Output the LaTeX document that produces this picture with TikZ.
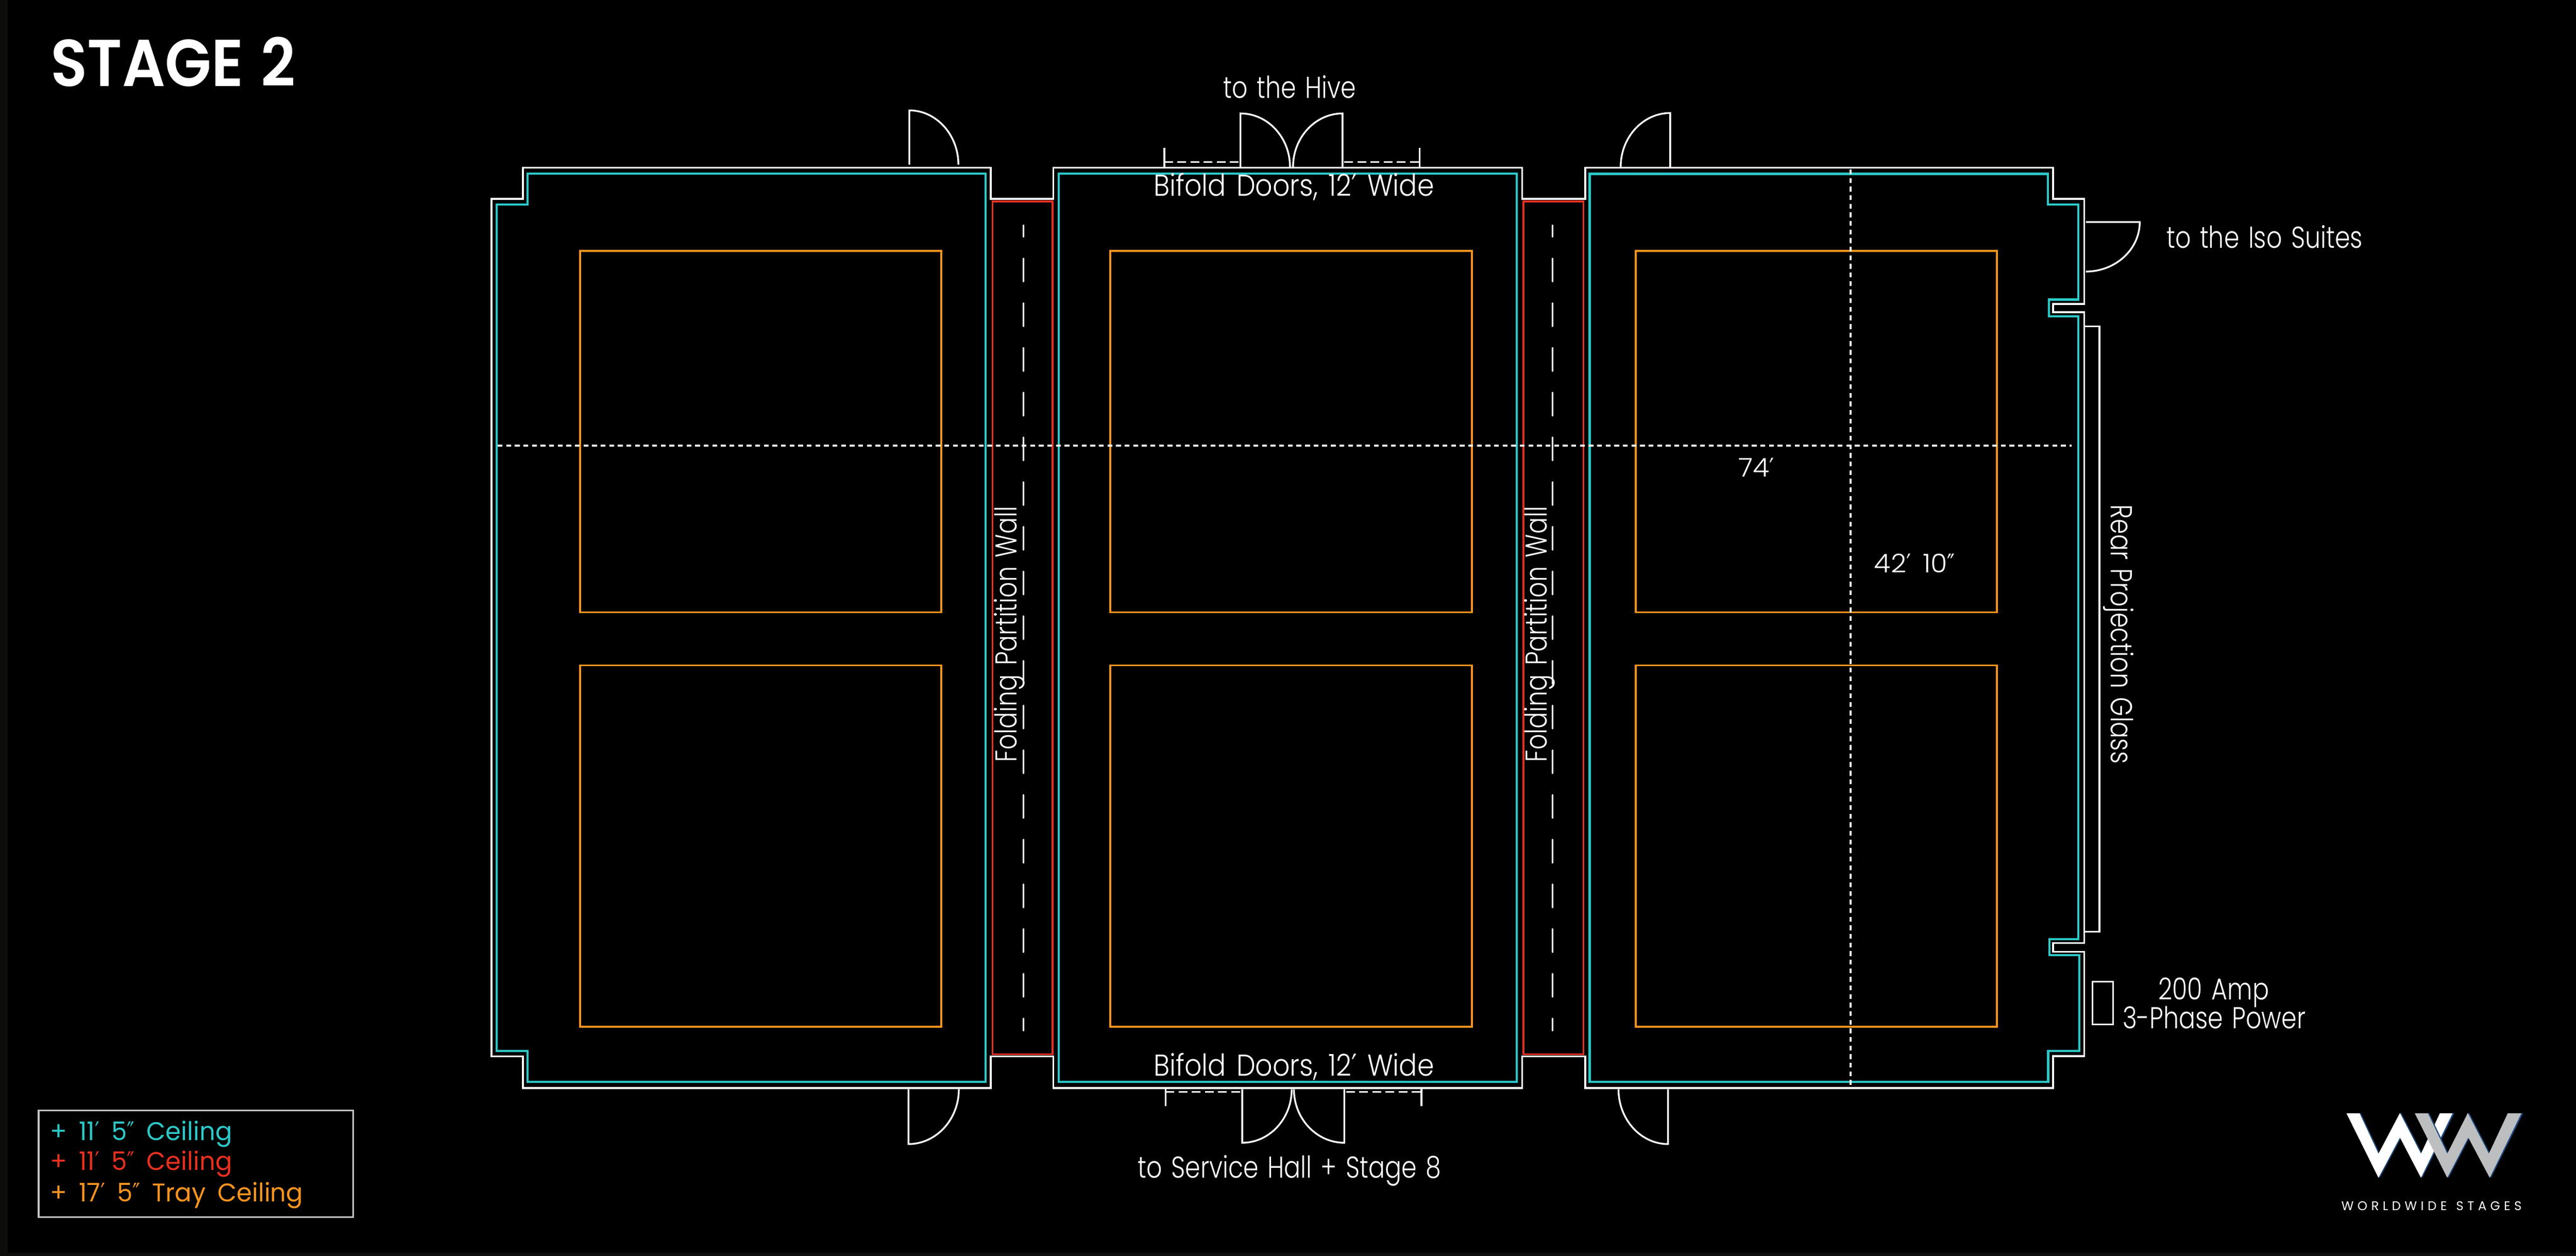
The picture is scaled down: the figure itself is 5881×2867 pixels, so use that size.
\documentclass[tikz,border=0pt]{standalone}
\usepackage{fontspec}
\usepackage{tikz}
\newfontfamily\labelfont{Poppins Light}[FakeStretch=0.81, WordSpace=1.35]
\newfontfamily\bifoldfont{Poppins Light}[FakeStretch=0.89, WordSpace=1.4]
\newfontfamily\dimfont{Poppins Light}[FakeStretch=1.05, WordSpace=1.6]
\newfontfamily\legendfont{Poppins}[FakeStretch=0.97, WordSpace=1.8]
\newfontfamily\titlefont{Poppins SemiBold}[FakeStretch=0.91, WordSpace=1.2]
\newfontfamily\brandfont{Poppins}[LetterSpace=30, WordSpace=1.3]
\newfontfamily\primefont{DejaVu Sans}[FakeStretch=0.8]
\newcommand{\feetmark}{{\primefont ′}}
\newcommand{\inchmark}{{\primefont ″}}
\definecolor{ceilteal}{HTML}{2CC8C8}
\definecolor{ceilred}{HTML}{E8301F}
\definecolor{ceilorange}{HTML}{F7941D}
\definecolor{framegray}{HTML}{0D0D0B}
\definecolor{legendgray}{HTML}{C4C4C4}
\definecolor{logogray}{HTML}{BCBEC0}
\definecolor{logoblue}{HTML}{1C4A80}

\begin{document}
\begin{tikzpicture}[x=0.01cm, y=-0.01cm]
    \tikzstyle{wall} = [draw=white, line width=0.04cm]
    \tikzstyle{tealline} = [draw=ceilteal, line width=0.05cm]
    \tikzstyle{redline} = [draw=ceilred, line width=0.045cm]
    \tikzstyle{tray} = [draw=ceilorange, line width=0.045cm]
    \tikzstyle{door} = [draw=white, line width=0.04cm]
    \tikzstyle{foldline} = [draw=white, line width=0.035cm, dash pattern=on 0.2cm off 0.1cm]
    \tikzstyle{partition} = [draw=white, line width=0.035cm, line cap=round, dash pattern=on 0.53cm off 0.49cm, dash phase=0.26cm]
    \tikzstyle{measure} = [draw=white, line width=0.048cm, dash pattern=on 0.11cm off 0.086cm]
    \tikzstyle{caption} = [text=white, inner sep=0, anchor=base, font=\labelfont\fontsize{19.6}{23}\selectfont]
    \tikzstyle{bifold} = [text=white, inner sep=0, anchor=base, font=\bifoldfont\fontsize{19.6}{23}\selectfont]
    \tikzstyle{dimension} = [text=white, inner sep=0, anchor=base, font=\dimfont\fontsize{16.7}{20}\selectfont]
    \tikzstyle{legendrow} = [inner sep=0, anchor=base west, font=\legendfont\fontsize{16.6}{20}\selectfont]

    \fill [framegray] (0,0) rectangle (5881,2867);
    \fill [black] (18,0) rectangle (5881,2860);

    \draw [wall] (1122,454) -- (1194,454) -- (1194,383) -- (2262,383) -- (2262,454) -- (2405,454) -- (2405,383) -- (3475,383) -- (3475,454) -- (3619,454) -- (3619,383) -- (4687,383) -- (4687,454) -- (4758,454) -- (4758,694) -- (4687,694) -- (4687,713) -- (4758,713) -- (4758,2153) -- (4687,2153) -- (4687,2173) -- (4758,2173) -- (4758,2411) -- (4687,2411) -- (4687,2484) -- (3619,2484) -- (3619,2412) -- (3475,2412) -- (3475,2484) -- (2405,2484) -- (2405,2412) -- (2262,2412) -- (2262,2484) -- (1194,2484) -- (1194,2412) -- (1122,2412) -- cycle;

    \draw [tealline] (1134,467) -- (1204,467) -- (1204,396) -- (2250,396) -- (2250,2470) -- (1204,2470) -- (1204,2399) -- (1134,2399) -- cycle;
    \draw [tealline] (2417,396) rectangle (3463,2470);
    \draw [tealline] (3629,397) -- (4675,397) -- (4675,467) -- (4745,467) -- (4745,684) -- (4678,684) -- (4678,722) -- (4745,722) -- (4745,2144) -- (4679,2144) -- (4679,2181) -- (4747,2181) -- (4747,2399) -- (4676,2399) -- (4676,2470) -- (3629,2470) -- cycle;

    \draw [redline] (2266,460) rectangle (2403,2407);
    \draw [redline] (3478,460) rectangle (3615,2407);

    \foreach \boxleft in {1324,2535,3734} {
        \draw [tray] (\boxleft,573) rectangle +(825,825);
        \draw [tray] (\boxleft,1519) rectangle +(825,825);
    }

    \draw [partition] (2337,514) -- (2337,2353);
    \draw [partition] (3545,514) -- (3545,2353);

    \draw [measure] (1136,1017) -- (4729,1017);
    \draw [measure] (4225,387) -- (4225,2478);

    \foreach \hinge/\swing/\tip/\base in {2076/2188/252/376, 3813/3700/258/381, 2832/2945/259/381, 3065/2952/259/381, 2074/2189/2612/2487, 3808/3695/2612/2487, 2836/2949/2609/2487, 3069/2954/2609/2487} {
        \draw [door] (\hinge,\base) -- (\hinge,\tip) .. controls ({\hinge+0.55*(\swing-\hinge)},\tip) and (\swing,{\base+0.55*(\tip-\base)}) .. (\swing,\base);
    }
    \draw [door] (4762,507) -- (4885,507) .. controls (4885,569) and (4830,620) .. (4762,620);

    \draw [door] (2658,337) -- (2658,381);
    \draw [door] (3241,337) -- (3241,381);
    \draw [door] (2661,2486) -- (2661,2525);
    \draw [door] (3245,2486) -- (3245,2525);
    \draw [foldline] (2658,370) -- (2830,370);
    \draw [foldline] (3069,370) -- (3241,370);
    \draw [foldline] (2661,2493) -- (2834,2493);
    \draw [foldline] (3073,2493) -- (3245,2493);

    \draw [door] (4758,745) -- (4793,745) -- (4793,2127) -- (4758,2127);
    \draw [door] (4777,2241) rectangle (4824,2339);

    \draw [draw=legendgray, line width=0.04cm] (88,2535) rectangle (806,2779);

    \node (title) [inner sep=0, anchor=base west, text=white, font=\titlefont\fontsize{43}{50}\selectfont] at (115,197) {STAGE 2};
    \node (hive) [caption] at (2944,224) {to the Hive};
    \node (bifoldtop) [bifold] at (2954,448) {Bifold Doors, 12\feetmark{} Wide};
    \node (bifoldbottom) [bifold] at (2954,2457) {Bifold Doors, 12\feetmark{} Wide};
    \node (service) [caption] at (2944,2689) {to Service Hall + Stage 8};
    \node (iso) [caption] at (5170,566) {to the Iso Suites};
    \node (partitionleft) [caption, rotate=90] at (2321,1448) {Folding Partition Wall};
    \node (partitionright) [caption, rotate=90] at (3531,1448) {Folding Partition Wall};
    \node (glass) [caption, rotate=-90] at (4820,1448) {Rear Projection Glass};
    \node (length) [dimension] at (4010,1088) {74\feetmark};
    \node (width) [dimension] at (4371,1307) {42\feetmark{} 10\inchmark};
    \node (ampline) [caption] at (5054,2282) {200 Amp};
    \node (phaseline) [caption] at (5055,2348) {3-Phase Power};

    \node (tealrow) [legendrow, text=ceilteal] at (114,2603) {+ 11\feetmark{} 5\inchmark{} Ceiling};
    \node (redrow) [legendrow, text=ceilred] at (114,2672) {+ 11\feetmark{} 5\inchmark{} Ceiling};
    \node (orangerow) [legendrow, text=ceilorange] at (114,2743) {+ 17\feetmark{} 5\inchmark{} Tray Ceiling};

    \fill [logoblue] (5360,2542) -- (5390,2542) -- (5433,2634) -- (5482,2541) -- (5530,2634) -- (5573,2542) -- (5603,2542) -- (5530,2689) -- (5482,2597) -- (5433,2689) -- cycle;
    \fill [white] (5357,2542) -- (5387,2542) -- (5430,2634) -- (5479,2541) -- (5527,2634) -- (5570,2542) -- (5599,2542) -- (5527,2689) -- (5479,2597) -- (5430,2689) -- cycle;
    \fill [logoblue] (5516,2542) -- (5546,2542) -- (5590,2634) -- (5637,2541) -- (5685,2634) -- (5728,2542) -- (5760,2542) -- (5687,2689) -- (5638,2597) -- (5590,2689) -- cycle;
    \fill [logogray] (5513,2542) -- (5543,2542) -- (5587,2634) -- (5634,2541) -- (5682,2634) -- (5725,2542) -- (5756,2542) -- (5684,2689) -- (5635,2597) -- (5587,2689) -- cycle;
    \shade [left color=black, middle color=white, right color=black] (5333,2709) rectangle (5772,2713);
    \node (brand) [inner sep=0, anchor=base, text=white, font=\brandfont\fontsize{8.2}{10}\selectfont] at (5551,2764) {WORLDWIDE STAGES};
\end{tikzpicture}
\end{document}
